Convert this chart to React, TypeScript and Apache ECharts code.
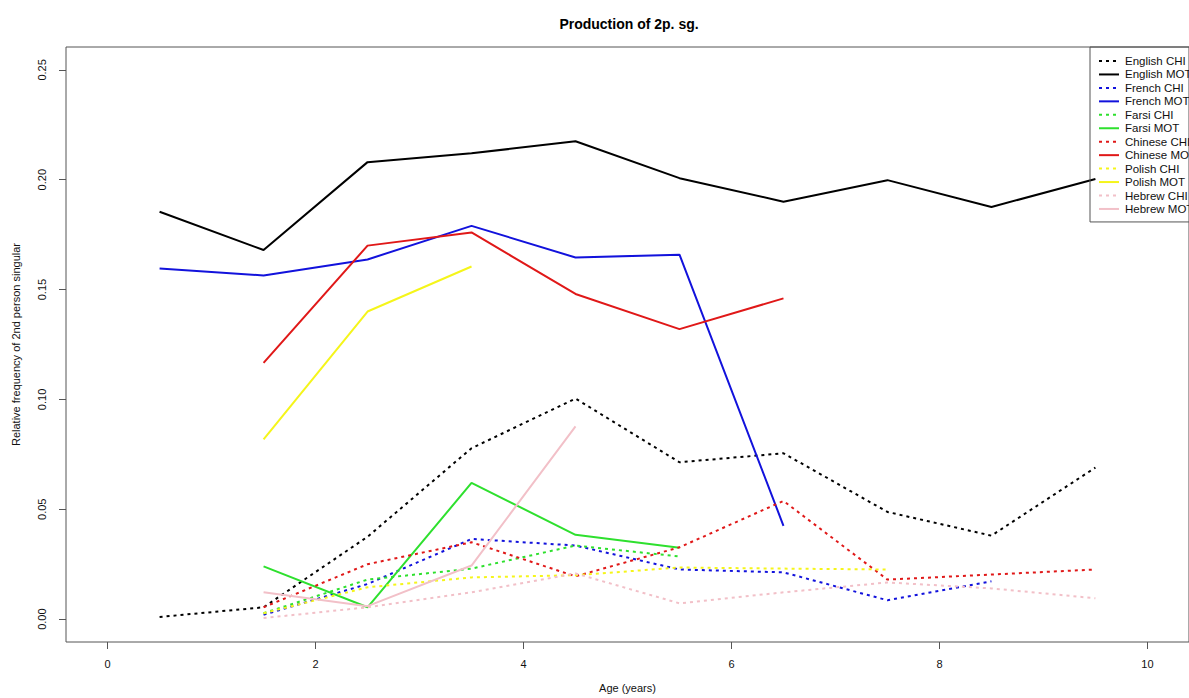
import React, { useEffect, useRef } from "react";
import * as echarts from "echarts";

const ages = [0.5, 1.5, 2.5, 3.5, 4.5, 5.5, 6.5, 7.5, 8.5, 9.5];

const englishCHI = [0.001, 0.0054, 0.0375, 0.0778, 0.1004, 0.0714, 0.0755, 0.0488, 0.038, 0.069];
const englishMOT = [0.1854, 0.168, 0.208, 0.212, 0.2175, 0.2007, 0.19, 0.1998, 0.1876, 0.2003];
const frenchCHI = [null, 0.002, 0.016, 0.0365, 0.0335, 0.0226, 0.0213, 0.0086, 0.0172, null];
const frenchMOT = [0.1596, 0.1564, 0.1637, 0.179, 0.1646, 0.1659, 0.0425, null, null, null];
const farsiCHI = [null, 0.0027, 0.018, 0.023, 0.0335, 0.0285, null, null, null, null];
const farsiMOT = [null, 0.024, 0.0054, 0.062, 0.0384, 0.0325, null, null, null, null];
const chineseCHI = [null, 0.0054, 0.025, 0.035, 0.0195, 0.0327, 0.0538, 0.018, 0.0203, 0.0226];
const chineseMOT = [null, 0.1166, 0.17, 0.176, 0.148, 0.132, 0.146, null, null, null];
const polishCHI = [null, 0.0027, 0.0145, 0.019, 0.02, 0.0235, 0.023, 0.0226, null, null];
const polishMOT = [null, 0.0818, 0.14, 0.1605, null, null, null, null, null, null];
const hebrewCHI = [null, 0.0005, 0.0054, 0.0122, 0.0208, 0.0072, 0.0122, 0.0167, 0.014, 0.0095];
const hebrewMOT = [null, 0.0122, 0.0059, 0.0244, 0.0877, null, null, null, null, null];

const xTicks = [0, 2, 4, 6, 8, 10];
const yTicks = [0, 0.05, 0.1, 0.15, 0.2, 0.25];

const seriesDefs: { name: string; values: (number | null)[]; color: string; dashed: boolean }[] = [
  { name: "English CHI", values: englishCHI, color: "#000000", dashed: true },
  { name: "English MOT", values: englishMOT, color: "#000000", dashed: false },
  { name: "French CHI", values: frenchCHI, color: "#1212dc", dashed: true },
  { name: "French MOT", values: frenchMOT, color: "#1212dc", dashed: false },
  { name: "Farsi CHI", values: farsiCHI, color: "#2ee02e", dashed: true },
  { name: "Farsi MOT", values: farsiMOT, color: "#2ee02e", dashed: false },
  { name: "Chinese CHI", values: chineseCHI, color: "#e01818", dashed: true },
  { name: "Chinese MOT", values: chineseMOT, color: "#e01818", dashed: false },
  { name: "Polish CHI", values: polishCHI, color: "#f5f51a", dashed: true },
  { name: "Polish MOT", values: polishMOT, color: "#f5f51a", dashed: false },
  { name: "Hebrew CHI", values: hebrewCHI, color: "#f2c0c8", dashed: true },
  { name: "Hebrew MOT", values: hebrewMOT, color: "#f2c0c8", dashed: false },
];

const FONT = "'Liberation Sans', Arial, Helvetica, sans-serif";

export default function App() {
  const ref = useRef<HTMLDivElement>(null);
  useEffect(() => {
    document.body.style.margin = "0";
    if (!ref.current) return;
    const chart = echarts.init(ref.current, undefined, { renderer: "svg" });
    chart.setOption({
      animation: false,
      backgroundColor: "#ffffff",
      title: {
        text: "Production of 2p. sg.",
        left: 624,
        textAlign: "center",
        top: 12,
        textStyle: { fontFamily: FONT, fontSize: 14, fontWeight: "bold", color: "#000" },
      },
      legend: {
        orient: "vertical",
        left: 1090,
        top: 47,
        data: seriesDefs.map((s) => s.name),
        itemWidth: 20,
        itemHeight: 10,
        itemGap: 1.45,
        padding: [8, 6, 7, 8],
        borderColor: "#555",
        borderWidth: 1,
        borderRadius: 0,
        itemStyle: { color: "transparent", borderWidth: 0, opacity: 0 },
        textStyle: {
          fontFamily: FONT,
          fontSize: 11.5,
          lineHeight: 12,
          color: "#111",
          padding: [0, 0, 0, 1],
        },
      },
      grid: {
        left: 66,
        top: 47,
        right: 0,
        bottom: 52,
        show: true,
        borderColor: "#555",
        borderWidth: 1,
        backgroundColor: "transparent",
      },
      xAxis: {
        type: "value",
        min: -0.4,
        max: 10.4,
        name: "Age (years)",
        nameLocation: "middle",
        nameGap: 40,
        nameTextStyle: { fontFamily: FONT, fontSize: 11, color: "#111" },
        axisLine: { show: false, onZero: false },
        axisTick: { show: true, length: 7, lineStyle: { color: "#555" }, customValues: xTicks },
        axisLabel: {
          fontFamily: FONT,
          fontSize: 11,
          color: "#111",
          margin: 16,
          customValues: xTicks,
          formatter: (v: number) => String(v),
        },
        splitLine: { show: false },
      },
      yAxis: {
        type: "value",
        min: -0.0104,
        max: 0.2604,
        name: "Relative frequency of 2nd person singular",
        nameLocation: "middle",
        nameGap: 45,
        nameRotate: 90,
        nameTextStyle: { fontFamily: FONT, fontSize: 11, color: "#111" },
        axisLine: { show: false, onZero: false },
        axisTick: { show: true, length: 7, lineStyle: { color: "#555" }, customValues: yTicks },
        axisLabel: {
          fontFamily: FONT,
          fontSize: 11,
          color: "#111",
          rotate: 90,
          margin: 19,
          customValues: yTicks,
          formatter: (v: number) => v.toFixed(2),
        },
        splitLine: { show: false },
      },
      series: seriesDefs.map((s) => ({
        name: s.name,
        type: "line",
        symbol: "none",
        showSymbol: false,
        connectNulls: false,
        data: ages.map((a, i) => [a, s.values[i]]),
        lineStyle: {
          color: s.color,
          width: 2,
          type: s.dashed ? [3, 4] : "solid",
        },
        itemStyle: { color: s.color },
      })),
    });
    return () => chart.dispose();
  }, []);
  return <div ref={ref} style={{ width: 1189, height: 698 }} />;
}
